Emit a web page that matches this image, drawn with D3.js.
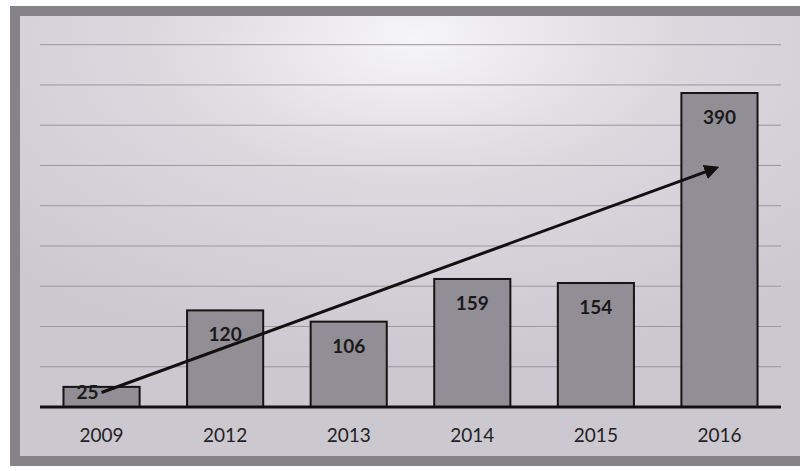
<!DOCTYPE html>
<html><head><meta charset="utf-8">
<script src="https://cdn.jsdelivr.net/npm/d3@7"></script>
<style>html,body{margin:0;padding:0;background:#fff;}svg{display:block;}</style>
</head><body>
<svg id="c" width="800" height="471"></svg>
<script>
const categories = ["2009","2012","2013","2014","2015","2016"];
const values = [25,120,106,159,154,390];
const gridTicks = [50,100,150,200,250,300,350,400,450];
const arrowFrom = {cat:"2009", value:18};
const arrowTo = {cat:"2016", value:297};

const svg = d3.select("#c");
const defs = svg.append("defs");
const rg = defs.append("radialGradient").attr("id","bg").attr("cx","0.5").attr("cy","0.05").attr("r","0.75");
rg.append("stop").attr("offset","0").attr("stop-color","#f6f5f7");
rg.append("stop").attr("offset","0.45").attr("stop-color","#dbd8de");
rg.append("stop").attr("offset","1").attr("stop-color","#ccc8d0");
defs.append("marker").attr("id","ah").attr("viewBox","0 0 10 10").attr("refX",8).attr("refY",5)
  .attr("markerWidth",5).attr("markerHeight",5).attr("orient","auto")
  .append("path").attr("d","M0,0L10,5L0,10z").attr("fill","#111");

// frame
svg.append("rect").attr("x",10).attr("y",6).attr("width",800).attr("height",460).attr("fill","#858288");
svg.append("rect").attr("x",20).attr("y",16).attr("width",790).attr("height",440).attr("fill","url(#bg)");

const x = d3.scaleBand().domain(categories).range([40,781]).paddingInner(0.384).paddingOuter(0.19);
const y = d3.scaleLinear().domain([0,390]).range([407,93]);

// gridlines
svg.append("g").selectAll("line").data(gridTicks).join("line")
  .attr("x1",40).attr("x2",781).attr("y1",d=>y(d)).attr("y2",d=>y(d))
  .attr("stroke","#9a979d").attr("stroke-width",1);

// bars
svg.append("g").selectAll("rect").data(values).join("rect")
  .attr("x",(d,i)=>x(categories[i])).attr("width",x.bandwidth())
  .attr("y",d=>y(d)).attr("height",d=>y(0)-y(d))
  .attr("fill","#918e95").attr("stroke","#151515").attr("stroke-width",2);

// baseline axis
const ax = svg.append("g").attr("transform",`translate(0,${y(0)})`).call(d3.axisBottom(x).tickSize(0).tickPadding(22));
ax.select(".domain").attr("d","M40,0H781").attr("stroke","#111").attr("stroke-width",3);
ax.selectAll("text").attr("font-family","Lato, 'Open Sans', sans-serif").attr("font-size",19).attr("fill","#222");

// value labels
svg.append("g").selectAll("text").data(values).join("text")
  .attr("x",(d,i)=>x(categories[i])+x.bandwidth()/2 - (d<40?14:0))
  .attr("y",d=>Math.min(y(d)+31, y(0)-8))
  .attr("text-anchor","middle").attr("font-family","Lato, 'Open Sans', sans-serif")
  .attr("font-weight","bold").attr("font-size",19).attr("fill","#1a1a1a").text(d=>d);

// arrow
svg.append("line")
  .attr("x1",x(arrowFrom.cat)+x.bandwidth()/2).attr("y1",y(arrowFrom.value))
  .attr("x2",x(arrowTo.cat)+x.bandwidth()/2-3).attr("y2",y(arrowTo.value))
  .attr("stroke","#111").attr("stroke-width",3).attr("marker-end","url(#ah)");
</script>
</body></html>
